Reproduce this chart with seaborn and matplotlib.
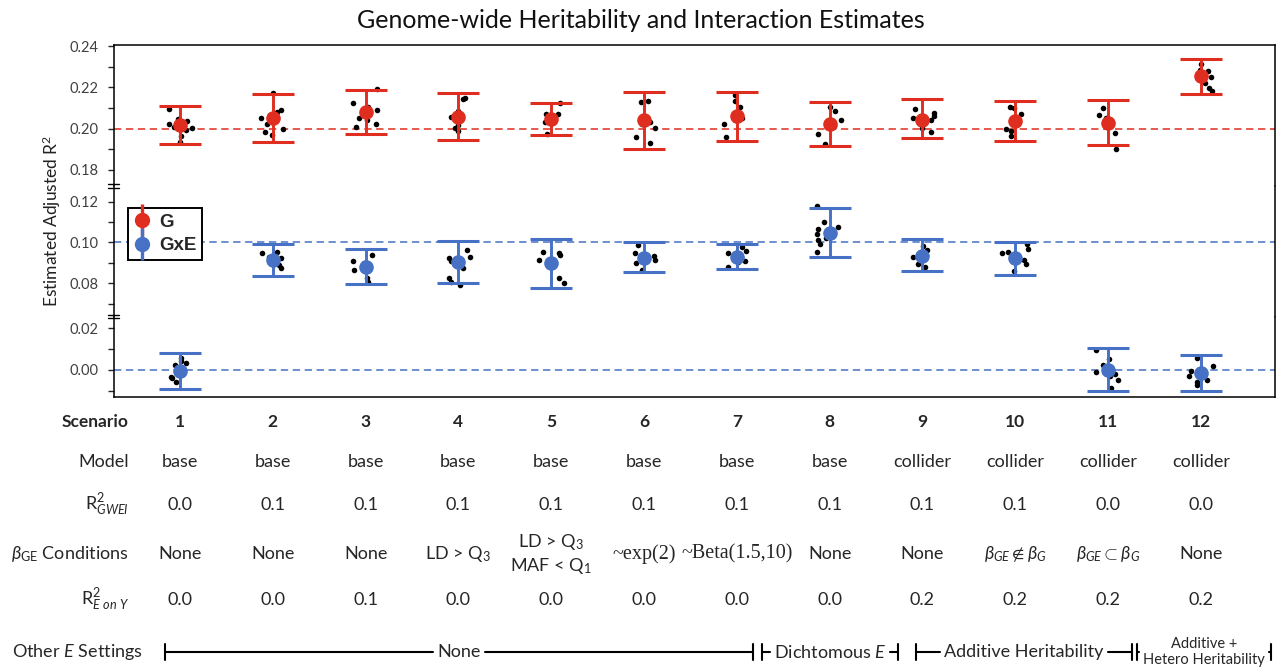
import matplotlib
matplotlib.use("Agg")
import matplotlib.pyplot as plt
from matplotlib.lines import Line2D
import matplotlib.transforms as mtransforms
import numpy as np
import pandas as pd
import seaborn as sns

# ---- data ----
scenarios = [str(i) for i in range(1, 13)]

g_mean = [0.2016, 0.2052, 0.2081, 0.2057, 0.2045, 0.2044, 0.2060, 0.2024, 0.2044, 0.2037, 0.2029, 0.2255]
g_low = [0.1925, 0.1935, 0.1976, 0.1943, 0.1967, 0.1902, 0.1940, 0.1916, 0.1955, 0.1940, 0.1919, 0.2168]
g_high = [0.2109, 0.2166, 0.2187, 0.2174, 0.2125, 0.2179, 0.2179, 0.2130, 0.2145, 0.2135, 0.2140, 0.2335]

gxe_mean = [-0.0003, 0.0913, 0.0881, 0.0905, 0.0900, 0.0926, 0.0930, 0.1047, 0.0935, 0.0922, 0.0002, -0.0014]
gxe_low = [-0.0090, 0.0835, 0.0796, 0.0799, 0.0779, 0.0856, 0.0868, 0.0930, 0.0859, 0.0840, -0.0101, -0.0099]
gxe_high = [0.0080, 0.0995, 0.0967, 0.1008, 0.1016, 0.1000, 0.0995, 0.1167, 0.1016, 0.1003, 0.0106, 0.0070]

g_runs = [
    [0.2094, 0.2036, 0.2046, 0.1992, 0.2003, 0.1964, 0.1935, 0.2020, 0.2010],
    [0.2174, 0.2081, 0.2089, 0.2065, 0.2049, 0.2020, 0.2000, 0.1984, 0.1971],
    [0.2192, 0.2122, 0.2106, 0.2089, 0.2049, 0.2041, 0.2024, 0.2008, 0.2070],
    [0.2150, 0.2145, 0.2086, 0.2057, 0.2016, 0.2003, 0.1987, 0.2060],
    [0.2125, 0.2073, 0.2070, 0.2045, 0.2033, 0.2031, 0.1976],
    [0.2133, 0.2128, 0.2060, 0.2033, 0.2020, 0.2003, 0.1960, 0.1930],
    [0.2163, 0.2135, 0.2106, 0.2057, 0.2041, 0.2021, 0.1960, 0.2050],
    [0.2106, 0.2085, 0.2041, 0.2013, 0.1976, 0.1927, 0.2030],
    [0.2094, 0.2078, 0.2062, 0.2044, 0.2003, 0.1984, 0.2050],
    [0.2106, 0.2100, 0.2073, 0.2045, 0.2000, 0.1990, 0.1964],
    [0.2101, 0.2065, 0.2049, 0.2040, 0.1980, 0.1902],
    [0.2314, 0.2285, 0.2277, 0.2250, 0.2220, 0.2195, 0.2182],
]
gxe_runs = [
    [0.0056, 0.0043, 0.0024, 0.0032, -0.0032, -0.0040, -0.0056],
    [0.0954, 0.0946, 0.0930, 0.0922, 0.0913, 0.0905, 0.0889, 0.0877],
    [0.0938, 0.0910, 0.0897, 0.0873, 0.0864, 0.0828, 0.0807],
    [0.0962, 0.0930, 0.0922, 0.0910, 0.0873, 0.0828, 0.0807, 0.0791],
    [0.0954, 0.0946, 0.0938, 0.0913, 0.0897, 0.0824, 0.0802],
    [0.0987, 0.0946, 0.0933, 0.0913, 0.0897, 0.0864],
    [0.0979, 0.0959, 0.0946, 0.0930, 0.0910, 0.0905, 0.0881],
    [0.1178, 0.1101, 0.1074, 0.1064, 0.1044, 0.1020, 0.1011, 0.0992, 0.0954],
    [0.0982, 0.0962, 0.0946, 0.0930, 0.0894, 0.0881],
    [0.0992, 0.0966, 0.0954, 0.0946, 0.0913, 0.0894, 0.0859],
    [0.0094, 0.0053, 0.0026, -0.0011, -0.0019, -0.0030, -0.0050, -0.0086],
    [0.0058, 0.0018, -0.0006, -0.0030, -0.0046, -0.0059, -0.0070],
]

model_row = ['base', 'base', 'base', 'base', 'base', 'base', 'base', 'base',
             'collider', 'collider', 'collider', 'collider']
r2_gwei_row = ['0.0', '0.1', '0.1', '0.1', '0.1', '0.1', '0.1', '0.1', '0.1', '0.1', '0.0', '0.0']
beta_row = ['None', 'None', 'None', r'LD > Q$_{3}$', 'LD > Q$_{3}$\nMAF < Q$_{1}$',
            '~exp(2)', '~Beta(1.5,10)', 'None', 'None',
            r'$\beta_{GE} \notin \beta_{G}$', r'$\beta_{GE} \subset \beta_{G}$', 'None']
r2_eony_row = ['0.0', '0.0', '0.1', '0.0', '0.0', '0.0', '0.0', '0.0', '0.2', '0.2', '0.2', '0.2']
other_e_groups = ['None', 'Dichtomous $E$', 'Additive Heritability', 'Additive +\nHetero Heritability']

g_df = pd.DataFrame({'scenario': [s for s, r in zip(scenarios, g_runs) for _ in r],
                     'value': [v for r in g_runs for v in r]})
gxe_df = pd.DataFrame({'scenario': [s for s, r in zip(scenarios, gxe_runs) for _ in r],
                       'value': [v for r in gxe_runs for v in r]})

# ---- style ----
sns.set_style("white")
plt.rcParams['font.family'] = ['Lato', 'DejaVu Sans']
plt.rcParams['mathtext.fontset'] = 'custom'
plt.rcParams['mathtext.rm'] = 'Lato'
plt.rcParams['mathtext.it'] = 'Lato:italic'
plt.rcParams['mathtext.bf'] = 'Lato:bold'

RED = '#DF2E1F'
BLUE = '#4671C4'
W, H = 1283, 672


def fx(px):
    return px / W


def fy(px):
    return 1 - px / H


fig = plt.figure(figsize=(W / 100, H / 100), dpi=100)

left, right = 114, 1275
edges = [45, 186, 316.5, 397]
ylims = [(0.1722, 0.2405), (0.0637, 0.1277), (-0.0130, 0.0257)]
tick_sets = [np.arange(18, 25), np.arange(7, 13), np.arange(-1, 3)]
axes = []
for top, bot in zip(edges[:-1], edges[1:]):
    kw = {'sharex': axes[0]} if axes else {}
    ax = fig.add_axes([fx(left), fy(bot), fx(right - left), (bot - top) / H], **kw)
    axes.append(ax)
ax_top, ax_mid, ax_bot = axes

np.random.seed(7)
panels = [(ax_top, g_df, g_mean, g_low, g_high, RED, 0.20),
          (ax_mid, gxe_df, gxe_mean, gxe_low, gxe_high, BLUE, 0.10),
          (ax_bot, gxe_df, gxe_mean, gxe_low, gxe_high, BLUE, 0.00)]
for (ax, df, mean, low, high, col, ref), ylim, ticks in zip(panels, ylims, tick_sets):
    ax.axhline(ref, color=col, lw=1.1, ls=(0, (4.8, 3.0)), zorder=1)
    sns.stripplot(data=df, x='scenario', y='value', order=scenarios, color='black',
                  size=4, jitter=0.14, linewidth=0, ax=ax, zorder=3)
    mean = np.array(mean)
    ax.errorbar(np.arange(len(scenarios)), mean,
                yerr=[mean - np.array(low), np.array(high) - mean],
                fmt='o', color=col, ms=9.5, elinewidth=2.1, capsize=15, capthick=2.2,
                zorder=4)
    ax.set_ylim(*ylim)
    ax.set_yticks(ticks / 100)
    ax.set_yticklabels([f'{t / 100:.2f}' if t % 2 == 0 else '' for t in ticks])
    ax.tick_params(axis='y', direction='out', length=4, width=1, pad=7,
                   labelsize=10.5, labelcolor='#404040', left=True)
    ax.tick_params(axis='x', bottom=False, labelbottom=False)
    ax.set_xlabel('')
    ax.set_ylabel('')
    for sp in ax.spines.values():
        sp.set_linewidth(1.1)
        sp.set_color('black')

ax_top.spines['bottom'].set_visible(False)
ax_mid.spines['top'].set_visible(False)
ax_mid.spines['bottom'].set_visible(False)
ax_bot.spines['top'].set_visible(False)
ax_top.set_xlim(-0.711, 11.80)

# break marks on the left spine
for yb in edges[1:3]:
    for dy in (-1.8, 1.8):
        fig.add_artist(Line2D([fx(left - 6), fx(left + 5)], [fy(yb + dy), fy(yb + dy)],
                              transform=fig.transFigure, color='black', lw=1.0))

fig.text(fx(641), fy(21), 'Genome-wide Heritability and Interaction Estimates',
         ha='center', va='center', fontsize=18, color='#111111')
fig.text(fx(52), fy(221), 'Estimated Adjusted R$^{2}$', rotation=90,
         ha='center', va='center', fontsize=12.5, color='#222222')

# legend
h_g = (Line2D([], [], color=RED, marker='|', ms=23, mew=2.4, ls='none'),
       Line2D([], [], color=RED, marker='o', ms=10, ls='none'))
h_gxe = (Line2D([], [], color=BLUE, marker='|', ms=23, mew=2.4, ls='none'),
         Line2D([], [], color=BLUE, marker='o', ms=10, ls='none'))
leg = fig.legend([h_g, h_gxe], ['G', 'GxE'], loc='upper left',
                 bbox_to_anchor=(fx(128), fy(208)), borderaxespad=0,
                 frameon=True, fancybox=False, edgecolor='black', framealpha=1,
                 prop={'family': 'Liberation Sans', 'weight': 'bold', 'size': 13.5},
                 handlelength=0.9, handletextpad=0.45, borderpad=0.3, labelspacing=0.35)
leg.get_frame().set_linewidth(1.4)

# table under the plot
col_tf = mtransforms.blended_transform_factory(ax_bot.transData, fig.transFigure)
label_x = fx(129)
row_y = {'scen': 422, 'model': 462, 'gwei': 505, 'beta': 554, 'eony': 600, 'other': 652}

fig.text(label_x, fy(row_y['scen']), 'Scenario', ha='right', va='center',
         fontsize=12.5, fontweight='bold')
fig.text(label_x, fy(row_y['model']), 'Model', ha='right', va='center', fontsize=13)
fig.text(label_x, fy(row_y['gwei']), r'R$^{2}_{GWEI}$', ha='right', va='center', fontsize=13)
fig.text(label_x, fy(row_y['beta']), r'$\beta_{\mathrm{GE}}$ Conditions', ha='right',
         va='center', fontsize=13)
fig.text(label_x, fy(row_y['eony']), r'R$^{2}_{E\ on\ Y}$', ha='right', va='center', fontsize=13)
fig.text(fx(12), fy(row_y['other']), 'Other $E$ Settings', ha='left', va='center', fontsize=13)

for i, s in enumerate(scenarios):
    ax_bot.text(i, fy(row_y['scen']), s, transform=col_tf, ha='center', va='center',
                fontsize=12.5, fontweight='bold')
    ax_bot.text(i, fy(row_y['model']), model_row[i], transform=col_tf, ha='center',
                va='center', fontsize=13)
    ax_bot.text(i, fy(row_y['gwei']), r2_gwei_row[i], transform=col_tf, ha='center',
                va='center', fontsize=13)
    if beta_row[i].startswith('~'):
        fam, fs = ['Liberation Serif'], 14.5
    else:
        fam, fs = ['Lato', 'DejaVu Sans'], 13
    ax_bot.text(i, fy(row_y['beta']), beta_row[i], transform=col_tf, ha='center',
                va='center', fontsize=fs, family=fam, linespacing=1.25)
    ax_bot.text(i, fy(row_y['eony']), r2_eony_row[i], transform=col_tf, ha='center',
                va='center', fontsize=13)

# "Other E settings" brackets
group_spans = [(165, 753), (762, 898), (916, 1132), (1137, 1271)]
yb = row_y['other']
renderer = fig.canvas.get_renderer()
for name, (a, b) in zip(other_e_groups, group_spans):
    size = 10.5 if '\n' in name else 13
    t = fig.text(fx((a + b) / 2), fy(yb), name, ha='center', va='center',
                 fontsize=size, linespacing=1.1)
    bb = t.get_window_extent(renderer)
    for x0, x1 in ((a, bb.x0 - 4), (bb.x1 + 4, b)):
        fig.add_artist(Line2D([fx(x0), fx(x1)], [fy(yb), fy(yb)],
                              transform=fig.transFigure, color='black', lw=1.5))
    for xe in (a, b):
        fig.add_artist(Line2D([fx(xe), fx(xe)], [fy(yb - 8), fy(yb + 8)],
                              transform=fig.transFigure, color='black', lw=1.5))

fig.savefig('out.png', dpi=100)
